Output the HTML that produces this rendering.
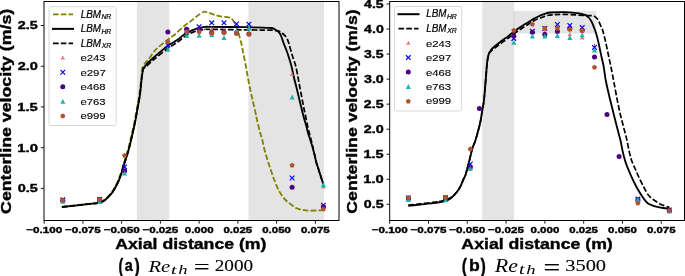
<!DOCTYPE html>
<html><head><meta charset="utf-8"><title>Centerline velocity</title>
<style>html,body{margin:0;padding:0;background:#fff;width:685px;height:276px;overflow:hidden}
text{font-kerning:none;white-space:pre}</style></head>
<body>
<svg width="685" height="276" viewBox="0 0 685 276" style="display:block">
<rect x="0" y="0" width="685" height="276" fill="#fff"/>
<g opacity="0.999">
<g>
<rect x="136.9" y="1.5" width="32.3" height="219" fill="#808080" fill-opacity="0.21"/>
<rect x="248.4" y="1.5" width="75.6" height="219" fill="#808080" fill-opacity="0.21"/>
<path d="M61.5 206.8C63.65 206.57 70.08 205.88 74.4 205.4C78.72 204.92 83.57 204.32 87.4 203.9C91.23 203.48 94.98 203.32 97.4 202.9C99.82 202.48 100.57 202.05 101.9 201.4C103.23 200.75 104.15 200.07 105.4 199C106.65 197.93 108.23 196.3 109.4 195C110.57 193.7 111.4 192.68 112.4 191.2C113.4 189.72 114.4 187.98 115.4 186.1C116.4 184.22 117.47 182.15 118.4 179.9C119.33 177.65 120.08 175.42 121 172.6C121.92 169.78 122.73 166.8 123.9 163C125.07 159.2 126.75 154.33 128 149.8C129.25 145.27 130.33 140.38 131.4 135.8C132.47 131.22 133.47 126.97 134.4 122.3C135.33 117.63 136.18 112.38 137 107.8C137.82 103.22 138.6 99.43 139.3 94.8C140 90.17 140.7 84.47 141.2 80C141.7 75.53 142.12 70 142.3 68C142.75 67.2 143.95 64.62 145 63.2C146.05 61.78 146.87 61.7 148.6 59.5C150.33 57.3 152.33 53.2 155.4 50C158.47 46.8 163.87 42.8 167 40.3C170.13 37.8 171.28 37.42 174.2 35C177.12 32.58 181.63 28.2 184.5 25.8C187.37 23.4 189.28 22.25 191.4 20.6C193.52 18.95 195.02 17.42 197.2 15.9C199.38 14.38 203.28 12.23 204.5 11.5C205.22 11.72 207.12 12.25 208.8 12.8C210.48 13.35 212.67 14.2 214.6 14.8C216.53 15.4 218.08 15.97 220.4 16.4C222.72 16.83 226.65 17 228.5 17.4C230.35 17.8 230.65 18.15 231.5 18.8C232.35 19.45 232.95 20.35 233.6 21.3C234.25 22.25 234.85 23.35 235.4 24.5C235.95 25.65 236.43 26.95 236.9 28.2C237.37 29.45 237.78 30.67 238.2 32C238.62 33.33 239.02 34.78 239.4 36.2C239.78 37.62 240.13 39.12 240.5 40.5C240.87 41.88 241.15 42.48 241.6 44.5C242.05 46.52 242.45 48.77 243.2 52.6C243.95 56.43 245.13 62.35 246.1 67.5C247.07 72.65 247.92 78.08 249 83.5C250.08 88.92 251.5 95.08 252.6 100C253.7 104.92 254.87 109.67 255.6 113C256.33 116.33 256.32 117 257 120C257.68 123 258.82 127.67 259.7 131C260.58 134.33 261.48 136.83 262.3 140C263.12 143.17 263.73 146.67 264.6 150C265.47 153.33 266.47 156.67 267.5 160C268.53 163.33 269.67 166.67 270.8 170C271.93 173.33 273.13 176.93 274.3 180C275.47 183.07 276.8 186.23 277.8 188.4C278.8 190.57 279.43 191.58 280.3 193C281.17 194.42 282.05 195.65 283 196.9C283.95 198.15 284.92 199.42 286 200.5C287.08 201.58 287.82 202.15 289.5 203.4C291.18 204.65 293.92 206.92 296.1 208C298.28 209.08 300.43 209.47 302.6 209.9C304.77 210.33 306.42 210.52 309.1 210.6C311.78 210.68 316.33 210.48 318.7 210.4C321.07 210.32 322.53 210.15 323.3 210.1" fill="none" stroke="#808000" stroke-width="1.8" stroke-linejoin="round" stroke-linecap="butt" stroke-dasharray="5.6 2.2"/>
<path d="M62.1 207C64.25 206.77 70.68 206.08 75 205.6C79.32 205.12 84.17 204.52 88 204.1C91.83 203.68 95.58 203.52 98 203.1C100.42 202.68 101.17 202.25 102.5 201.6C103.83 200.95 104.75 200.27 106 199.2C107.25 198.13 108.83 196.5 110 195.2C111.17 193.9 112 192.88 113 191.4C114 189.92 115 188.18 116 186.3C117 184.42 118.07 182.35 119 180.1C119.93 177.85 120.68 175.62 121.6 172.8C122.52 169.98 123.33 167 124.5 163.2C125.67 159.4 127.35 154.53 128.6 150C129.85 145.47 130.93 140.58 132 136C133.07 131.42 134.07 127.17 135 122.5C135.93 117.83 136.78 112.58 137.6 108C138.42 103.42 139.25 99.67 139.9 95C140.55 90.33 140.98 84.33 141.5 80C142.02 75.67 142.75 70.83 143 69C143.58 68.22 145.18 65.8 146.5 64.3C147.82 62.8 149.42 61.38 150.9 60C152.38 58.62 152.72 58.23 155.4 56C158.08 53.77 163.38 49.25 167 46.6C170.62 43.95 174.18 42.17 177.1 40.1C180.02 38.03 182.02 35.83 184.5 34.2C186.98 32.57 189.58 31.35 192 30.3C194.42 29.25 196.87 28.47 199 27.9C201.13 27.33 202.97 27.08 204.8 26.9C206.63 26.72 203.3 26.75 210 26.8C216.7 26.85 235.55 27.03 245 27.2C254.45 27.37 262.28 27.67 266.7 27.8C271.12 27.93 270.28 27.83 271.5 28C272.72 28.17 273.2 28.43 274 28.8C274.8 29.17 275.37 29.48 276.3 30.2C277.23 30.92 278.73 31.97 279.6 33.1C280.47 34.23 280.88 35.48 281.5 37C282.12 38.52 282.72 40.58 283.3 42.2C283.88 43.82 284.35 45.03 285 46.7C285.65 48.37 286.45 50.07 287.2 52.2C287.95 54.33 288.77 57.08 289.5 59.5C290.23 61.92 290.87 63.75 291.6 66.7C292.33 69.65 293.22 74.23 293.9 77.2C294.58 80.17 295.1 82.08 295.7 84.5C296.3 86.92 296.78 88.75 297.5 91.7C298.22 94.65 299.28 99.23 300 102.2C300.72 105.17 301.2 107.08 301.8 109.5C302.4 111.92 302.88 114.08 303.6 116.7C304.32 119.32 305.38 122.57 306.1 125.2C306.82 127.83 307.22 130.08 307.9 132.5C308.58 134.92 309.48 137.45 310.2 139.7C310.92 141.95 311.48 143.52 312.2 146C312.92 148.48 313.83 151.93 314.5 154.6C315.17 157.27 315.65 159.93 316.2 162C316.75 164.07 317.22 165.17 317.8 167C318.38 168.83 319.03 170.9 319.7 173C320.37 175.1 321.18 177.8 321.8 179.6C322.42 181.4 323.13 183.1 323.4 183.8" fill="none" stroke="#000" stroke-width="1.85" stroke-linejoin="round" stroke-linecap="butt"/>
<path d="M62.1 207C64.25 206.77 70.68 206.08 75 205.6C79.32 205.12 84.17 204.52 88 204.1C91.83 203.68 95.58 203.52 98 203.1C100.42 202.68 101.17 202.25 102.5 201.6C103.83 200.95 104.75 200.27 106 199.2C107.25 198.13 108.83 196.5 110 195.2C111.17 193.9 112 192.88 113 191.4C114 189.92 115 188.18 116 186.3C117 184.42 118.07 182.35 119 180.1C119.93 177.85 120.68 175.62 121.6 172.8C122.52 169.98 123.33 167 124.5 163.2C125.67 159.4 127.35 154.53 128.6 150C129.85 145.47 130.93 140.58 132 136C133.07 131.42 134.07 127.17 135 122.5C135.93 117.83 136.78 112.58 137.6 108C138.42 103.42 139.25 99.67 139.9 95C140.55 90.33 140.98 84.33 141.5 80C142.02 75.67 142.75 70.83 143 69C143.58 68.53 145.18 67.33 146.5 66.2C147.82 65.07 149.42 63.52 150.9 62.2C152.38 60.88 152.72 60.5 155.4 58.3C158.08 56.1 163.4 51.63 167 49C170.6 46.37 174.08 44.57 177 42.5C179.92 40.43 182 38.25 184.5 36.6C187 34.95 189.58 33.67 192 32.6C194.42 31.53 196.83 30.73 199 30.2C201.17 29.67 203.17 29.55 205 29.4C206.83 29.25 201.67 29.2 210 29.3C218.33 29.4 245 29.85 255 30C265 30.15 266.67 30.15 270 30.2C273.33 30.25 273.43 30.1 275 30.3C276.57 30.5 278.13 30.87 279.4 31.4C280.67 31.93 281.58 32.7 282.6 33.5C283.62 34.3 284.67 35.15 285.5 36.2C286.33 37.25 286.98 38.42 287.6 39.8C288.22 41.18 288.58 42.43 289.2 44.5C289.82 46.57 290.57 49.7 291.3 52.2C292.03 54.7 292.83 57.08 293.6 59.5C294.37 61.92 295.17 63.75 295.9 66.7C296.63 69.65 297.43 74.23 298 77.2C298.57 80.17 298.85 82.08 299.3 84.5C299.75 86.92 300.13 88.75 300.7 91.7C301.27 94.65 302.13 99.23 302.7 102.2C303.27 105.17 303.6 107.08 304.1 109.5C304.6 111.92 305.15 114.08 305.7 116.7C306.25 119.32 306.82 122.57 307.4 125.2C307.98 127.83 308.58 130.08 309.2 132.5C309.82 134.92 310.53 137.45 311.1 139.7C311.67 141.95 312.03 143.52 312.6 146C313.17 148.48 313.9 151.93 314.5 154.6C315.1 157.27 315.65 159.93 316.2 162C316.75 164.07 317.22 165.17 317.8 167C318.38 168.83 319.03 170.9 319.7 173C320.37 175.1 321.18 177.8 321.8 179.6C322.42 181.4 323.13 183.1 323.4 183.8" fill="none" stroke="#000" stroke-width="1.7" stroke-linejoin="round" stroke-linecap="butt" stroke-dasharray="5.6 2.2"/>
<path d="M62.8 200.35L62.8 198.2M62.8 200.35L60.94 201.42M62.8 200.35L64.66 201.42" stroke="#df5a5e" stroke-width="1.15" fill="none"/>
<path d="M99.7 199.85L99.7 197.7M99.7 199.85L97.84 200.92M99.7 199.85L101.56 200.92" stroke="#df5a5e" stroke-width="1.15" fill="none"/>
<path d="M124.6 171.85L124.6 169.7M124.6 171.85L122.74 172.92M124.6 171.85L126.46 172.92" stroke="#df5a5e" stroke-width="1.15" fill="none"/>
<path d="M167.9 45.35L167.9 43.2M167.9 45.35L166.04 46.43M167.9 45.35L169.76 46.43" stroke="#df5a5e" stroke-width="1.15" fill="none"/>
<path d="M186.7 31.35L186.7 29.2M186.7 31.35L184.84 32.43M186.7 31.35L188.56 32.43" stroke="#df5a5e" stroke-width="1.15" fill="none"/>
<path d="M199.1 30.35L199.1 28.2M199.1 30.35L197.24 31.43M199.1 30.35L200.96 31.43" stroke="#df5a5e" stroke-width="1.15" fill="none"/>
<path d="M211.7 29.65L211.7 27.5M211.7 29.65L209.84 30.73M211.7 29.65L213.56 30.73" stroke="#df5a5e" stroke-width="1.15" fill="none"/>
<path d="M224 31.35L224 29.2M224 31.35L222.14 32.43M224 31.35L225.86 32.43" stroke="#df5a5e" stroke-width="1.15" fill="none"/>
<path d="M236.5 30.35L236.5 28.2M236.5 30.35L234.64 31.43M236.5 30.35L238.36 31.43" stroke="#df5a5e" stroke-width="1.15" fill="none"/>
<path d="M248.9 28.35L248.9 26.2M248.9 28.35L247.04 29.43M248.9 28.35L250.76 29.43" stroke="#df5a5e" stroke-width="1.15" fill="none"/>
<path d="M292.1 74.45L292.1 72.3M292.1 74.45L290.24 75.52M292.1 74.45L293.96 75.52" stroke="#df5a5e" stroke-width="1.15" fill="none"/>
<path d="M323.4 187.15L323.4 185M323.4 187.15L321.54 188.22M323.4 187.15L325.26 188.22" stroke="#df5a5e" stroke-width="1.15" fill="none"/>
<path d="M60.47 197.48L65.12 202.12M60.47 202.12L65.12 197.48" stroke="#0000ff" stroke-width="1.15" fill="none"/>
<path d="M97.38 197.18L102.03 201.82M97.38 201.82L102.03 197.18" stroke="#0000ff" stroke-width="1.15" fill="none"/>
<path d="M122.27 164.58L126.92 169.22M122.27 169.22L126.92 164.58" stroke="#0000ff" stroke-width="1.15" fill="none"/>
<path d="M165.58 42.77L170.22 47.43M165.58 47.43L170.22 42.77" stroke="#0000ff" stroke-width="1.15" fill="none"/>
<path d="M184.38 28.68L189.02 33.33M184.38 33.33L189.02 28.68" stroke="#0000ff" stroke-width="1.15" fill="none"/>
<path d="M196.78 24.38L201.42 29.02M196.78 29.02L201.42 24.38" stroke="#0000ff" stroke-width="1.15" fill="none"/>
<path d="M209.38 20.48L214.02 25.12M209.38 25.12L214.02 20.48" stroke="#0000ff" stroke-width="1.15" fill="none"/>
<path d="M221.68 20.48L226.32 25.12M221.68 25.12L226.32 20.48" stroke="#0000ff" stroke-width="1.15" fill="none"/>
<path d="M234.18 21.57L238.82 26.22M234.18 26.22L238.82 21.57" stroke="#0000ff" stroke-width="1.15" fill="none"/>
<path d="M246.58 21.88L251.22 26.52M246.58 26.52L251.22 21.88" stroke="#0000ff" stroke-width="1.15" fill="none"/>
<path d="M289.78 175.68L294.43 180.32M289.78 180.32L294.43 175.68" stroke="#0000ff" stroke-width="1.15" fill="none"/>
<path d="M321.07 202.88L325.72 207.52M321.07 207.52L325.72 202.88" stroke="#0000ff" stroke-width="1.15" fill="none"/>
<circle cx="62.8" cy="200.2" r="2.5" fill="#4b0082"/>
<circle cx="99.7" cy="199.6" r="2.5" fill="#4b0082"/>
<circle cx="124.6" cy="170.8" r="2.5" fill="#4b0082"/>
<circle cx="167.9" cy="32.1" r="2.5" fill="#4b0082"/>
<circle cx="186.7" cy="29.3" r="2.5" fill="#4b0082"/>
<circle cx="199.1" cy="29.2" r="2.5" fill="#4b0082"/>
<circle cx="211.7" cy="32.8" r="2.5" fill="#4b0082"/>
<circle cx="224" cy="32.3" r="2.5" fill="#4b0082"/>
<circle cx="236.5" cy="33" r="2.5" fill="#4b0082"/>
<circle cx="248.9" cy="34" r="2.5" fill="#4b0082"/>
<circle cx="292.1" cy="187.2" r="2.5" fill="#4b0082"/>
<circle cx="323.4" cy="206.5" r="2.5" fill="#4b0082"/>
<polygon points="62.8,198.8 60.3,203.8 65.3,203.8" fill="#20b2aa"/>
<polygon points="99.7,198.9 97.2,203.9 102.2,203.9" fill="#20b2aa"/>
<polygon points="124.6,170.5 122.1,175.5 127.1,175.5" fill="#20b2aa"/>
<polygon points="167.9,46.7 165.4,51.7 170.4,51.7" fill="#20b2aa"/>
<polygon points="186.7,32.9 184.2,37.9 189.2,37.9" fill="#20b2aa"/>
<polygon points="199.1,32.8 196.6,37.8 201.6,37.8" fill="#20b2aa"/>
<polygon points="211.7,31.9 209.2,36.9 214.2,36.9" fill="#20b2aa"/>
<polygon points="224,34.9 221.5,39.9 226.5,39.9" fill="#20b2aa"/>
<polygon points="236.5,28.2 234,33.2 239,33.2" fill="#20b2aa"/>
<polygon points="248.9,25.6 246.4,30.6 251.4,30.6" fill="#20b2aa"/>
<polygon points="292.1,94.5 289.6,99.5 294.6,99.5" fill="#20b2aa"/>
<polygon points="323.4,181.9 320.9,186.9 325.9,186.9" fill="#20b2aa"/>
<polygon points="62.8,197.75 65.32,199.58 64.36,202.54 61.24,202.54 60.28,199.58" fill="#b0522a"/>
<polygon points="99.7,196.95 102.22,198.78 101.26,201.74 98.14,201.74 97.18,198.78" fill="#b0522a"/>
<polygon points="124.6,152.95 127.12,154.78 126.16,157.74 123.04,157.74 122.08,154.78" fill="#b0522a"/>
<polygon points="167.9,39.05 170.42,40.88 169.46,43.84 166.34,43.84 165.38,40.88" fill="#b0522a"/>
<polygon points="186.7,29.25 189.22,31.08 188.26,34.04 185.14,34.04 184.18,31.08" fill="#b0522a"/>
<polygon points="199.1,29.25 201.62,31.08 200.66,34.04 197.54,34.04 196.58,31.08" fill="#b0522a"/>
<polygon points="211.7,30.45 214.22,32.28 213.26,35.24 210.14,35.24 209.18,32.28" fill="#b0522a"/>
<polygon points="224,29.95 226.52,31.78 225.56,34.74 222.44,34.74 221.48,31.78" fill="#b0522a"/>
<polygon points="236.5,31.05 239.02,32.88 238.06,35.84 234.94,35.84 233.98,32.88" fill="#b0522a"/>
<polygon points="248.9,31.45 251.42,33.28 250.46,36.24 247.34,36.24 246.38,33.28" fill="#b0522a"/>
<polygon points="292.1,162.65 294.62,164.48 293.66,167.44 290.54,167.44 289.58,164.48" fill="#b0522a"/>
<polygon points="323.4,206.45 325.92,208.28 324.96,211.24 321.84,211.24 320.88,208.28" fill="#b0522a"/>
<rect x="49" y="6.7" width="67.2" height="118.8" rx="2" ry="2" fill="#fff" fill-opacity="0.8" stroke="#d4d4d4" stroke-width="0.9"/>
<polyline points="53,14.4 73,14.4" fill="none" stroke="#808000" stroke-width="1.8" stroke-linejoin="round" stroke-linecap="butt" stroke-dasharray="5.6 2.2"/>
<text transform="translate(80.7,17.6) scale(0.9569,1)" style="font-family:'Liberation Sans',sans-serif;" font-size="10.320" font-style="italic" stroke="#000" stroke-width="0.2" fill="#000">LBM</text>
<text transform="translate(101.39,19.2) scale(1.0742,1)" style="font-family:'Liberation Sans',sans-serif;" font-size="6.395" font-style="italic" stroke="#000" stroke-width="0.2" fill="#000">NR</text>
<polyline points="53,28.87 73,28.87" fill="none" stroke="#000" stroke-width="2" stroke-linejoin="round" stroke-linecap="square"/>
<text transform="translate(80.7,32.07) scale(0.9569,1)" style="font-family:'Liberation Sans',sans-serif;" font-size="10.320" font-style="italic" stroke="#000" stroke-width="0.2" fill="#000">LBM</text>
<text transform="translate(101.39,33.67) scale(1.0742,1)" style="font-family:'Liberation Sans',sans-serif;" font-size="6.395" font-style="italic" stroke="#000" stroke-width="0.2" fill="#000">HR</text>
<polyline points="53,43.34 73,43.34" fill="none" stroke="#000" stroke-width="1.9" stroke-linejoin="round" stroke-linecap="butt" stroke-dasharray="5.6 2.2"/>
<text transform="translate(80.7,46.54) scale(0.9569,1)" style="font-family:'Liberation Sans',sans-serif;" font-size="10.320" font-style="italic" stroke="#000" stroke-width="0.2" fill="#000">LBM</text>
<text transform="translate(101.73,48.14) scale(1.0784,1)" style="font-family:'Liberation Sans',sans-serif;" font-size="6.395" font-style="italic" stroke="#000" stroke-width="0.2" fill="#000">XR</text>
<path d="M62.8 58.16L62.8 56.01M62.8 58.16L60.94 59.24M62.8 58.16L64.66 59.24" stroke="#df5a5e" stroke-width="1.15" fill="none"/>
<text transform="translate(80.48,61.26) scale(1.1986,1)" style="font-family:'Liberation Sans',sans-serif;" font-size="9.435" stroke="#000" stroke-width="0.12" fill="#000">e243</text>
<path d="M60.47 69.95L65.12 74.61M60.47 74.61L65.12 69.95" stroke="#0000ff" stroke-width="1.15" fill="none"/>
<text transform="translate(80.48,75.73) scale(1.2022,1)" style="font-family:'Liberation Sans',sans-serif;" font-size="9.435" stroke="#000" stroke-width="0.12" fill="#000">e297</text>
<circle cx="62.8" cy="86.75" r="2.5" fill="#4b0082"/>
<text transform="translate(80.48,90.2) scale(1.1983,1)" style="font-family:'Liberation Sans',sans-serif;" font-size="9.435" stroke="#000" stroke-width="0.12" fill="#000">e468</text>
<polygon points="62.8,98.72 60.3,103.72 65.3,103.72" fill="#20b2aa"/>
<text transform="translate(80.48,104.67) scale(1.1986,1)" style="font-family:'Liberation Sans',sans-serif;" font-size="9.435" stroke="#000" stroke-width="0.12" fill="#000">e763</text>
<polygon points="62.8,113.34 65.32,115.17 64.36,118.13 61.24,118.13 60.28,115.17" fill="#b0522a"/>
<text transform="translate(80.48,119.14) scale(1.2005,1)" style="font-family:'Liberation Sans',sans-serif;" font-size="9.435" stroke="#000" stroke-width="0.12" fill="#000">e999</text>
<rect x="44" y="1.5" width="295" height="219" fill="none" stroke="#000" stroke-width="1"/>
<line x1="40.8" y1="188.4" x2="44" y2="188.4" stroke="#000" stroke-width="0.9"/>
<line x1="40.8" y1="147.68" x2="44" y2="147.68" stroke="#000" stroke-width="0.9"/>
<line x1="40.8" y1="106.95" x2="44" y2="106.95" stroke="#000" stroke-width="0.9"/>
<line x1="40.8" y1="66.22" x2="44" y2="66.22" stroke="#000" stroke-width="0.9"/>
<line x1="40.8" y1="25.5" x2="44" y2="25.5" stroke="#000" stroke-width="0.9"/>
<line x1="44.19" y1="220.5" x2="44.19" y2="223.7" stroke="#000" stroke-width="0.9"/>
<line x1="82.93" y1="220.5" x2="82.93" y2="223.7" stroke="#000" stroke-width="0.9"/>
<line x1="121.67" y1="220.5" x2="121.67" y2="223.7" stroke="#000" stroke-width="0.9"/>
<line x1="160.41" y1="220.5" x2="160.41" y2="223.7" stroke="#000" stroke-width="0.9"/>
<line x1="199.15" y1="220.5" x2="199.15" y2="223.7" stroke="#000" stroke-width="0.9"/>
<line x1="237.89" y1="220.5" x2="237.89" y2="223.7" stroke="#000" stroke-width="0.9"/>
<line x1="276.63" y1="220.5" x2="276.63" y2="223.7" stroke="#000" stroke-width="0.9"/>
<line x1="315.37" y1="220.5" x2="315.37" y2="223.7" stroke="#000" stroke-width="0.9"/>
</g>
<g>
<rect x="482.2" y="1.5" width="32" height="219" fill="#808080" fill-opacity="0.21"/>
<rect x="513.5" y="10.9" width="82.9" height="22.6" fill="#808080" fill-opacity="0.21"/>
<path d="M408.3 205.9C410.25 205.68 415.88 205.05 420 204.6C424.12 204.15 429.67 203.62 433 203.2C436.33 202.78 437.93 202.47 440 202.1C442.07 201.73 443.58 201.65 445.4 201C447.22 200.35 449.45 199.18 450.9 198.2C452.35 197.22 453.02 196.25 454.1 195.1C455.18 193.95 456.3 192.83 457.4 191.3C458.5 189.77 459.7 187.9 460.7 185.9C461.7 183.9 462.6 181.12 463.4 179.3C464.2 177.48 464.55 177.93 465.5 175C466.45 172.07 467.98 166.03 469.1 161.7C470.22 157.37 471.22 152.33 472.2 149C473.18 145.67 474.08 144.43 475 141.7C475.92 138.97 476.8 135.93 477.7 132.6C478.6 129.27 479.65 125.32 480.4 121.7C481.15 118.08 481.6 114.52 482.2 110.9C482.8 107.28 483.38 105.55 484 100C484.62 94.45 485.37 83.93 485.9 77.6C486.43 71.27 486.72 66 487.2 62C487.68 58 488.53 55 488.8 53.6C489.28 52.87 490.6 50.5 491.7 49.2C492.8 47.9 493.98 47.02 495.4 45.8C496.82 44.58 498.62 43.1 500.2 41.9C501.78 40.7 503.37 39.72 504.9 38.6C506.43 37.48 507.9 36.35 509.4 35.2C510.9 34.05 512.32 32.88 513.9 31.7C515.48 30.52 517.28 29.22 518.9 28.1C520.52 26.98 522.03 25.98 523.6 25C525.17 24.02 526.63 23.22 528.3 22.2C529.97 21.18 531.93 19.85 533.6 18.9C535.27 17.95 536.9 17.17 538.3 16.5C539.7 15.83 540.83 15.37 542 14.9C543.17 14.43 543.9 14.1 545.3 13.7C546.7 13.3 547.12 12.75 550.4 12.5C553.68 12.25 560.23 12.07 565 12.2C569.77 12.33 575.58 12.82 579 13.3C582.42 13.78 583.82 14.32 585.5 15.1C587.18 15.88 588.02 16.77 589.1 18C590.18 19.23 591.15 20.83 592 22.5C592.85 24.17 593.53 26.25 594.2 28C594.87 29.75 595.35 30.85 596 33C596.65 35.15 597.3 37.47 598.1 40.9C598.9 44.33 599.88 49.38 600.8 53.6C601.72 57.82 602.78 61.8 603.6 66.2C604.42 70.6 604.8 75.2 605.7 80C606.6 84.8 607.78 89.78 609 95C610.22 100.22 611.65 105.87 613 111.3C614.35 116.73 615.87 122.82 617.1 127.6C618.33 132.38 619.43 135.87 620.4 140C621.37 144.13 622.05 148.73 622.9 152.4C623.75 156.07 624.52 158.98 625.5 162C626.48 165.02 627.58 167.57 628.8 170.5C630.02 173.43 631.47 176.77 632.8 179.6C634.13 182.43 635.33 184.85 636.8 187.5C638.27 190.15 640.02 193.1 641.6 195.5C643.18 197.9 644.98 200.43 646.3 201.9C647.62 203.37 648.03 203.55 649.5 204.3C650.97 205.05 652.83 205.78 655.1 206.4C657.37 207.02 660.73 207.6 663.1 208C665.47 208.4 668.27 208.67 669.3 208.8" fill="none" stroke="#000" stroke-width="1.85" stroke-linejoin="round" stroke-linecap="butt"/>
<path d="M408.3 205.1C410.25 204.88 415.88 204.25 420 203.8C424.12 203.35 429.67 202.82 433 202.4C436.33 201.98 437.93 201.67 440 201.3C442.07 200.93 443.58 200.85 445.4 200.2C447.22 199.55 449.45 198.25 450.9 197.4C452.35 196.55 453.02 196.12 454.1 195.1C455.18 194.08 456.3 192.83 457.4 191.3C458.5 189.77 459.7 187.9 460.7 185.9C461.7 183.9 462.6 181.12 463.4 179.3C464.2 177.48 464.55 177.93 465.5 175C466.45 172.07 467.98 166.03 469.1 161.7C470.22 157.37 471.22 152.33 472.2 149C473.18 145.67 474.08 144.43 475 141.7C475.92 138.97 476.8 135.93 477.7 132.6C478.6 129.27 479.65 125.32 480.4 121.7C481.15 118.08 481.6 114.52 482.2 110.9C482.8 107.28 483.38 105.55 484 100C484.62 94.45 485.37 83.93 485.9 77.6C486.43 71.27 486.72 66 487.2 62C487.68 58 488.53 55 488.8 53.6C489.28 53.08 490.6 51.52 491.7 50.5C492.8 49.48 493.98 48.62 495.4 47.5C496.82 46.38 498.62 44.97 500.2 43.8C501.78 42.63 503.37 41.6 504.9 40.5C506.43 39.4 507.9 38.32 509.4 37.2C510.9 36.08 512.32 34.95 513.9 33.8C515.48 32.65 517.28 31.4 518.9 30.3C520.52 29.2 522.03 28.22 523.6 27.2C525.17 26.18 526.63 25.23 528.3 24.2C529.97 23.17 531.93 21.93 533.6 21C535.27 20.07 536.72 19.27 538.3 18.6C539.88 17.93 541.7 17.5 543.1 17C544.5 16.5 545.13 15.97 546.7 15.6C548.27 15.23 549.45 15 552.5 14.8C555.55 14.6 559.38 14.28 565 14.4C570.62 14.52 581.45 15.25 586.2 15.5C590.95 15.75 591.57 15.23 593.5 15.9C595.43 16.57 596.48 17.57 597.8 19.5C599.12 21.43 600.6 25.75 601.4 27.5C602.2 29.25 601.93 27.77 602.6 30C603.27 32.23 604.48 36.97 605.4 40.9C606.32 44.83 607.2 49.38 608.1 53.6C609 57.82 609.9 61.8 610.8 66.2C611.7 70.6 612.58 75.2 613.5 80C614.42 84.8 615.28 89.78 616.3 95C617.32 100.22 618.37 105.87 619.6 111.3C620.83 116.73 622.48 122.82 623.7 127.6C624.92 132.38 625.95 135.87 626.9 140C627.85 144.13 628.55 148.82 629.4 152.4C630.25 155.98 630.98 158.65 632 161.5C633.02 164.35 634.3 166.75 635.5 169.5C636.7 172.25 637.78 175 639.2 178C640.62 181 642.42 184.58 644 187.5C645.58 190.42 646.98 193.37 648.7 195.5C650.42 197.63 652.3 198.85 654.3 200.3C656.3 201.75 658.43 203.1 660.7 204.2C662.97 205.3 666.43 206.33 667.9 206.9C669.37 207.47 669.23 207.48 669.5 207.6" fill="none" stroke="#000" stroke-width="1.7" stroke-linejoin="round" stroke-linecap="butt" stroke-dasharray="5.6 2.2"/>
<path d="M408.4 198.35L408.4 196.2M408.4 198.35L406.54 199.42M408.4 198.35L410.26 199.42" stroke="#df5a5e" stroke-width="1.15" fill="none"/>
<path d="M445.6 197.95L445.6 195.8M445.6 197.95L443.74 199.02M445.6 197.95L447.46 199.02" stroke="#df5a5e" stroke-width="1.15" fill="none"/>
<path d="M470.3 167.35L470.3 165.2M470.3 167.35L468.44 168.42M470.3 167.35L472.16 168.42" stroke="#df5a5e" stroke-width="1.15" fill="none"/>
<path d="M513.8 38.85L513.8 36.7M513.8 38.85L511.94 39.93M513.8 38.85L515.66 39.93" stroke="#df5a5e" stroke-width="1.15" fill="none"/>
<path d="M532.4 31.85L532.4 29.7M532.4 31.85L530.54 32.93M532.4 31.85L534.26 32.93" stroke="#df5a5e" stroke-width="1.15" fill="none"/>
<path d="M544.8 32.05L544.8 29.9M544.8 32.05L542.94 33.12M544.8 32.05L546.66 33.12" stroke="#df5a5e" stroke-width="1.15" fill="none"/>
<path d="M557.4 31.35L557.4 29.2M557.4 31.35L555.54 32.43M557.4 31.35L559.26 32.43" stroke="#df5a5e" stroke-width="1.15" fill="none"/>
<path d="M569.8 34.75L569.8 32.6M569.8 34.75L567.94 35.83M569.8 34.75L571.66 35.83" stroke="#df5a5e" stroke-width="1.15" fill="none"/>
<path d="M582.2 38.25L582.2 36.1M582.2 38.25L580.34 39.33M582.2 38.25L584.06 39.33" stroke="#df5a5e" stroke-width="1.15" fill="none"/>
<path d="M594.5 45.95L594.5 43.8M594.5 45.95L592.64 47.03M594.5 45.95L596.36 47.03" stroke="#df5a5e" stroke-width="1.15" fill="none"/>
<path d="M637.9 199.85L637.9 197.7M637.9 199.85L636.04 200.92M637.9 199.85L639.76 200.92" stroke="#df5a5e" stroke-width="1.15" fill="none"/>
<path d="M669.3 210.55L669.3 208.4M669.3 210.55L667.44 211.62M669.3 210.55L671.16 211.62" stroke="#df5a5e" stroke-width="1.15" fill="none"/>
<path d="M406.07 195.68L410.72 200.32M406.07 200.32L410.72 195.68" stroke="#0000ff" stroke-width="1.15" fill="none"/>
<path d="M443.28 195.48L447.93 200.12M443.28 200.12L447.93 195.48" stroke="#0000ff" stroke-width="1.15" fill="none"/>
<path d="M467.98 161.68L472.62 166.32M467.98 166.32L472.62 161.68" stroke="#0000ff" stroke-width="1.15" fill="none"/>
<path d="M511.47 36.27L516.12 40.93M511.47 40.93L516.12 36.27" stroke="#0000ff" stroke-width="1.15" fill="none"/>
<path d="M530.07 28.88L534.73 33.52M530.07 33.52L534.73 28.88" stroke="#0000ff" stroke-width="1.15" fill="none"/>
<path d="M542.47 26.07L547.12 30.72M542.47 30.72L547.12 26.07" stroke="#0000ff" stroke-width="1.15" fill="none"/>
<path d="M555.07 22.18L559.73 26.82M555.07 26.82L559.73 22.18" stroke="#0000ff" stroke-width="1.15" fill="none"/>
<path d="M567.47 23.07L572.12 27.72M567.47 27.72L572.12 23.07" stroke="#0000ff" stroke-width="1.15" fill="none"/>
<path d="M579.88 25.28L584.53 29.93M579.88 29.93L584.53 25.28" stroke="#0000ff" stroke-width="1.15" fill="none"/>
<path d="M592.17 45.07L596.83 49.73M592.17 49.73L596.83 45.07" stroke="#0000ff" stroke-width="1.15" fill="none"/>
<path d="M635.57 196.58L640.23 201.22M635.57 201.22L640.23 196.58" stroke="#0000ff" stroke-width="1.15" fill="none"/>
<path d="M666.97 207.58L671.62 212.22M666.97 212.22L671.62 207.58" stroke="#0000ff" stroke-width="1.15" fill="none"/>
<circle cx="408.4" cy="198" r="2.5" fill="#4b0082"/>
<circle cx="445.6" cy="197.8" r="2.5" fill="#4b0082"/>
<circle cx="470.3" cy="167.6" r="2.5" fill="#4b0082"/>
<circle cx="479.4" cy="108.5" r="2.5" fill="#4b0082"/>
<circle cx="513.8" cy="36" r="2.5" fill="#4b0082"/>
<circle cx="532.4" cy="32.2" r="2.5" fill="#4b0082"/>
<circle cx="544.8" cy="34.4" r="2.5" fill="#4b0082"/>
<circle cx="557.4" cy="31.5" r="2.5" fill="#4b0082"/>
<circle cx="569.8" cy="29" r="2.5" fill="#4b0082"/>
<circle cx="582.2" cy="30.2" r="2.5" fill="#4b0082"/>
<circle cx="594.5" cy="57.1" r="2.5" fill="#4b0082"/>
<circle cx="607" cy="114.6" r="2.5" fill="#4b0082"/>
<circle cx="619.1" cy="156.5" r="2.5" fill="#4b0082"/>
<circle cx="637.9" cy="199.6" r="2.5" fill="#4b0082"/>
<circle cx="669.3" cy="210.3" r="2.5" fill="#4b0082"/>
<polygon points="408.4,197.1 405.9,202.1 410.9,202.1" fill="#20b2aa"/>
<polygon points="445.6,197.2 443.1,202.2 448.1,202.2" fill="#20b2aa"/>
<polygon points="470.3,165.9 467.8,170.9 472.8,170.9" fill="#20b2aa"/>
<polygon points="513.8,39.8 511.3,44.8 516.3,44.8" fill="#20b2aa"/>
<polygon points="532.4,33.5 529.9,38.5 534.9,38.5" fill="#20b2aa"/>
<polygon points="544.8,33.5 542.3,38.5 547.3,38.5" fill="#20b2aa"/>
<polygon points="557.4,32.9 554.9,37.9 559.9,37.9" fill="#20b2aa"/>
<polygon points="569.8,35.1 567.3,40.1 572.3,40.1" fill="#20b2aa"/>
<polygon points="582.2,32.5 579.7,37.5 584.7,37.5" fill="#20b2aa"/>
<polygon points="594.5,47.6 592,52.6 597,52.6" fill="#20b2aa"/>
<polygon points="637.9,196.7 635.4,201.7 640.4,201.7" fill="#20b2aa"/>
<polygon points="669.3,208.5 666.8,213.5 671.8,213.5" fill="#20b2aa"/>
<polygon points="408.4,195.25 410.92,197.08 409.96,200.04 406.84,200.04 405.88,197.08" fill="#b0522a"/>
<polygon points="445.6,195.05 448.12,196.88 447.16,199.84 444.04,199.84 443.08,196.88" fill="#b0522a"/>
<polygon points="470.3,146.35 472.82,148.18 471.86,151.14 468.74,151.14 467.78,148.18" fill="#b0522a"/>
<polygon points="513.8,27.85 516.32,29.68 515.36,32.64 512.24,32.64 511.28,29.68" fill="#b0522a"/>
<polygon points="532.4,21.75 534.92,23.58 533.96,26.54 530.84,26.54 529.88,23.58" fill="#b0522a"/>
<polygon points="544.8,25.75 547.32,27.58 546.36,30.54 543.24,30.54 542.28,27.58" fill="#b0522a"/>
<polygon points="557.4,25.65 559.92,27.48 558.96,30.44 555.84,30.44 554.88,27.48" fill="#b0522a"/>
<polygon points="569.8,26.55 572.32,28.38 571.36,31.34 568.24,31.34 567.28,28.38" fill="#b0522a"/>
<polygon points="582.2,27.85 584.72,29.68 583.76,32.64 580.64,32.64 579.68,29.68" fill="#b0522a"/>
<polygon points="594.5,64.65 597.02,66.48 596.06,69.44 592.94,69.44 591.98,66.48" fill="#b0522a"/>
<polygon points="637.9,200.45 640.42,202.28 639.46,205.24 636.34,205.24 635.38,202.28" fill="#b0522a"/>
<polygon points="669.3,208.05 671.82,209.88 670.86,212.84 667.74,212.84 666.78,209.88" fill="#b0522a"/>
<rect x="394.4" y="6.5" width="67.3" height="104.5" rx="2" ry="2" fill="#fff" fill-opacity="0.8" stroke="#d4d4d4" stroke-width="0.9"/>
<polyline points="398.5,14.2 418.5,14.2" fill="none" stroke="#000" stroke-width="2" stroke-linejoin="round" stroke-linecap="square"/>
<text transform="translate(426.2,17.4) scale(0.9569,1)" style="font-family:'Liberation Sans',sans-serif;" font-size="10.320" font-style="italic" stroke="#000" stroke-width="0.2" fill="#000">LBM</text>
<text transform="translate(446.89,19) scale(1.0742,1)" style="font-family:'Liberation Sans',sans-serif;" font-size="6.395" font-style="italic" stroke="#000" stroke-width="0.2" fill="#000">HR</text>
<polyline points="398.5,28.67 418.5,28.67" fill="none" stroke="#000" stroke-width="1.9" stroke-linejoin="round" stroke-linecap="butt" stroke-dasharray="5.6 2.2"/>
<text transform="translate(426.2,31.87) scale(0.9569,1)" style="font-family:'Liberation Sans',sans-serif;" font-size="10.320" font-style="italic" stroke="#000" stroke-width="0.2" fill="#000">LBM</text>
<text transform="translate(447.23,33.47) scale(1.0784,1)" style="font-family:'Liberation Sans',sans-serif;" font-size="6.395" font-style="italic" stroke="#000" stroke-width="0.2" fill="#000">XR</text>
<path d="M408.3 43.49L408.3 41.34M408.3 43.49L406.44 44.57M408.3 43.49L410.16 44.57" stroke="#df5a5e" stroke-width="1.15" fill="none"/>
<text transform="translate(425.98,46.59) scale(1.1986,1)" style="font-family:'Liberation Sans',sans-serif;" font-size="9.435" stroke="#000" stroke-width="0.12" fill="#000">e243</text>
<path d="M405.98 55.28L410.62 59.94M405.98 59.94L410.62 55.28" stroke="#0000ff" stroke-width="1.15" fill="none"/>
<text transform="translate(425.98,61.06) scale(1.2022,1)" style="font-family:'Liberation Sans',sans-serif;" font-size="9.435" stroke="#000" stroke-width="0.12" fill="#000">e297</text>
<circle cx="408.3" cy="72.08" r="2.5" fill="#4b0082"/>
<text transform="translate(425.98,75.53) scale(1.1983,1)" style="font-family:'Liberation Sans',sans-serif;" font-size="9.435" stroke="#000" stroke-width="0.12" fill="#000">e468</text>
<polygon points="408.3,84.05 405.8,89.05 410.8,89.05" fill="#20b2aa"/>
<text transform="translate(425.98,90) scale(1.1986,1)" style="font-family:'Liberation Sans',sans-serif;" font-size="9.435" stroke="#000" stroke-width="0.12" fill="#000">e763</text>
<polygon points="408.3,98.67 410.82,100.5 409.86,103.46 406.74,103.46 405.78,100.5" fill="#b0522a"/>
<text transform="translate(425.98,104.47) scale(1.2005,1)" style="font-family:'Liberation Sans',sans-serif;" font-size="9.435" stroke="#000" stroke-width="0.12" fill="#000">e999</text>
<rect x="389.7" y="1.5" width="294.8" height="219" fill="none" stroke="#000" stroke-width="1"/>
<line x1="386.5" y1="204.3" x2="389.7" y2="204.3" stroke="#000" stroke-width="0.9"/>
<line x1="386.5" y1="179.26" x2="389.7" y2="179.26" stroke="#000" stroke-width="0.9"/>
<line x1="386.5" y1="154.22" x2="389.7" y2="154.22" stroke="#000" stroke-width="0.9"/>
<line x1="386.5" y1="129.18" x2="389.7" y2="129.18" stroke="#000" stroke-width="0.9"/>
<line x1="386.5" y1="104.14" x2="389.7" y2="104.14" stroke="#000" stroke-width="0.9"/>
<line x1="386.5" y1="79.1" x2="389.7" y2="79.1" stroke="#000" stroke-width="0.9"/>
<line x1="386.5" y1="54.06" x2="389.7" y2="54.06" stroke="#000" stroke-width="0.9"/>
<line x1="386.5" y1="29.02" x2="389.7" y2="29.02" stroke="#000" stroke-width="0.9"/>
<line x1="386.5" y1="3.98" x2="389.7" y2="3.98" stroke="#000" stroke-width="0.9"/>
<line x1="389.7" y1="220.5" x2="389.7" y2="223.7" stroke="#000" stroke-width="0.9"/>
<line x1="428.5" y1="220.5" x2="428.5" y2="223.7" stroke="#000" stroke-width="0.9"/>
<line x1="467.3" y1="220.5" x2="467.3" y2="223.7" stroke="#000" stroke-width="0.9"/>
<line x1="506.1" y1="220.5" x2="506.1" y2="223.7" stroke="#000" stroke-width="0.9"/>
<line x1="544.9" y1="220.5" x2="544.9" y2="223.7" stroke="#000" stroke-width="0.9"/>
<line x1="583.7" y1="220.5" x2="583.7" y2="223.7" stroke="#000" stroke-width="0.9"/>
<line x1="622.5" y1="220.5" x2="622.5" y2="223.7" stroke="#000" stroke-width="0.9"/>
<line x1="661.3" y1="220.5" x2="661.3" y2="223.7" stroke="#000" stroke-width="0.9"/>
</g>
<text transform="translate(17.63,192.39) scale(1.2621,1)" style="font-family:'Liberation Sans',sans-serif;" font-size="11.441" font-weight="bold" stroke="#000" stroke-width="0.4" fill="#000">0.5</text>
<text transform="translate(17.26,151.66) scale(1.2981,1)" style="font-family:'Liberation Sans',sans-serif;" font-size="11.441" font-weight="bold" stroke="#000" stroke-width="0.4" fill="#000">1.0</text>
<text transform="translate(17.27,110.94) scale(1.2663,1)" style="font-family:'Liberation Sans',sans-serif;" font-size="11.609" font-weight="bold" stroke="#000" stroke-width="0.4" fill="#000">1.5</text>
<text transform="translate(17.7,70.21) scale(1.2701,1)" style="font-family:'Liberation Sans',sans-serif;" font-size="11.441" font-weight="bold" stroke="#000" stroke-width="0.4" fill="#000">2.0</text>
<text transform="translate(17.7,29.49) scale(1.2575,1)" style="font-family:'Liberation Sans',sans-serif;" font-size="11.441" font-weight="bold" stroke="#000" stroke-width="0.4" fill="#000">2.5</text>
<text transform="translate(363.73,208.29) scale(1.2489,1)" style="font-family:'Liberation Sans',sans-serif;" font-size="11.441" font-weight="bold" stroke="#000" stroke-width="0.4" fill="#000">0.5</text>
<text transform="translate(363.37,183.25) scale(1.2845,1)" style="font-family:'Liberation Sans',sans-serif;" font-size="11.441" font-weight="bold" stroke="#000" stroke-width="0.4" fill="#000">1.0</text>
<text transform="translate(363.38,158.21) scale(1.2530,1)" style="font-family:'Liberation Sans',sans-serif;" font-size="11.609" font-weight="bold" stroke="#000" stroke-width="0.4" fill="#000">1.5</text>
<text transform="translate(363.8,133.17) scale(1.2568,1)" style="font-family:'Liberation Sans',sans-serif;" font-size="11.441" font-weight="bold" stroke="#000" stroke-width="0.4" fill="#000">2.0</text>
<text transform="translate(363.81,108.13) scale(1.2443,1)" style="font-family:'Liberation Sans',sans-serif;" font-size="11.441" font-weight="bold" stroke="#000" stroke-width="0.4" fill="#000">2.5</text>
<text transform="translate(363.97,83.07) scale(1.2483,1)" style="font-family:'Liberation Sans',sans-serif;" font-size="11.417" font-weight="bold" stroke="#000" stroke-width="0.4" fill="#000">3.0</text>
<text transform="translate(363.98,58.03) scale(1.2360,1)" style="font-family:'Liberation Sans',sans-serif;" font-size="11.417" font-weight="bold" stroke="#000" stroke-width="0.4" fill="#000">3.5</text>
<text transform="translate(364.09,33.01) scale(1.2384,1)" style="font-family:'Liberation Sans',sans-serif;" font-size="11.441" font-weight="bold" stroke="#000" stroke-width="0.4" fill="#000">4.0</text>
<text transform="translate(364.09,7.97) scale(1.2085,1)" style="font-family:'Liberation Sans',sans-serif;" font-size="11.609" font-weight="bold" stroke="#000" stroke-width="0.4" fill="#000">4.5</text>
<text transform="translate(26.16,233.21) scale(1.2348,1)" style="font-family:'Liberation Sans',sans-serif;" font-size="9.463" font-weight="bold" stroke="#000" stroke-width="0.4" fill="#000">−0.100</text>
<text transform="translate(64.9,233.21) scale(1.2294,1)" style="font-family:'Liberation Sans',sans-serif;" font-size="9.463" font-weight="bold" stroke="#000" stroke-width="0.4" fill="#000">−0.075</text>
<text transform="translate(103.64,233.21) scale(1.2348,1)" style="font-family:'Liberation Sans',sans-serif;" font-size="9.463" font-weight="bold" stroke="#000" stroke-width="0.4" fill="#000">−0.050</text>
<text transform="translate(142.38,233.21) scale(1.2294,1)" style="font-family:'Liberation Sans',sans-serif;" font-size="9.463" font-weight="bold" stroke="#000" stroke-width="0.4" fill="#000">−0.025</text>
<text transform="translate(184.74,233.21) scale(1.2174,1)" style="font-family:'Liberation Sans',sans-serif;" font-size="9.463" font-weight="bold" stroke="#000" stroke-width="0.4" fill="#000">0.000</text>
<text transform="translate(223.49,233.21) scale(1.2108,1)" style="font-family:'Liberation Sans',sans-serif;" font-size="9.463" font-weight="bold" stroke="#000" stroke-width="0.4" fill="#000">0.025</text>
<text transform="translate(262.22,233.21) scale(1.2174,1)" style="font-family:'Liberation Sans',sans-serif;" font-size="9.463" font-weight="bold" stroke="#000" stroke-width="0.4" fill="#000">0.050</text>
<text transform="translate(300.97,233.21) scale(1.2108,1)" style="font-family:'Liberation Sans',sans-serif;" font-size="9.463" font-weight="bold" stroke="#000" stroke-width="0.4" fill="#000">0.075</text>
<text transform="translate(371.67,233.21) scale(1.2348,1)" style="font-family:'Liberation Sans',sans-serif;" font-size="9.463" font-weight="bold" stroke="#000" stroke-width="0.4" fill="#000">−0.100</text>
<text transform="translate(410.47,233.21) scale(1.2294,1)" style="font-family:'Liberation Sans',sans-serif;" font-size="9.463" font-weight="bold" stroke="#000" stroke-width="0.4" fill="#000">−0.075</text>
<text transform="translate(449.27,233.21) scale(1.2348,1)" style="font-family:'Liberation Sans',sans-serif;" font-size="9.463" font-weight="bold" stroke="#000" stroke-width="0.4" fill="#000">−0.050</text>
<text transform="translate(488.07,233.21) scale(1.2294,1)" style="font-family:'Liberation Sans',sans-serif;" font-size="9.463" font-weight="bold" stroke="#000" stroke-width="0.4" fill="#000">−0.025</text>
<text transform="translate(530.49,233.21) scale(1.2174,1)" style="font-family:'Liberation Sans',sans-serif;" font-size="9.463" font-weight="bold" stroke="#000" stroke-width="0.4" fill="#000">0.000</text>
<text transform="translate(569.3,233.21) scale(1.2108,1)" style="font-family:'Liberation Sans',sans-serif;" font-size="9.463" font-weight="bold" stroke="#000" stroke-width="0.4" fill="#000">0.025</text>
<text transform="translate(608.09,233.21) scale(1.2174,1)" style="font-family:'Liberation Sans',sans-serif;" font-size="9.463" font-weight="bold" stroke="#000" stroke-width="0.4" fill="#000">0.050</text>
<text transform="translate(646.9,233.21) scale(1.2108,1)" style="font-family:'Liberation Sans',sans-serif;" font-size="9.463" font-weight="bold" stroke="#000" stroke-width="0.4" fill="#000">0.075</text>
<text transform="translate(115.26,249.3) scale(1.1585,1)" style="font-family:'Liberation Sans',sans-serif;" font-size="15.262" font-weight="bold" stroke="#000" stroke-width="0.4" fill="#000">Axial distance (m)</text>
<text transform="translate(461.36,249.3) scale(1.1601,1)" style="font-family:'Liberation Sans',sans-serif;" font-size="15.262" font-weight="bold" stroke="#000" stroke-width="0.4" fill="#000">Axial distance (m)</text>
<text transform="translate(11.45,213.93) rotate(-90) scale(1.1543,1)" style="font-family:'Liberation Sans',sans-serif;" font-size="15.395" font-weight="bold" stroke="#000" stroke-width="0.4" fill="#000">Centerline velocity (m/s)</text>
<text transform="translate(357.05,213.73) rotate(-90) scale(1.1393,1)" style="font-family:'Liberation Sans',sans-serif;" font-size="15.537" font-weight="bold" stroke="#000" stroke-width="0.4" fill="#000">Centerline velocity (m/s)</text>
<text transform="translate(118.39,273.39) scale(0.6990,1)" style="font-family:'Liberation Sans',sans-serif;" font-size="20.276" font-weight="bold" stroke="#000" stroke-width="0.4" fill="#000">(</text>
<text transform="translate(124.78,271.34) scale(0.8889,1)" style="font-family:'Liberation Sans',sans-serif;" font-size="16.245" font-weight="bold" stroke="#000" stroke-width="0.4" fill="#000">a</text>
<text transform="translate(134.58,273.39) scale(0.7864,1)" style="font-family:'Liberation Sans',sans-serif;" font-size="20.276" font-weight="bold" stroke="#000" stroke-width="0.4" fill="#000">)</text>
<text transform="translate(148.41,271.7) scale(1.2114,1)" style="font-family:'Liberation Serif',serif;" font-size="17.105" font-style="italic" fill="#000">Re</text>
<text transform="translate(170.92,273.77) scale(1.5137,1)" style="font-family:'Liberation Serif',serif;" font-size="13.269" font-style="italic" fill="#000">t</text>
<text transform="translate(178.22,273.9) scale(1.5636,1)" style="font-family:'Liberation Serif',serif;" font-size="11.962" font-style="italic" fill="#000">h</text>
<text transform="translate(193.75,274.23) scale(1.3670,1)" style="font-family:'Liberation Serif',serif;" font-size="20.720" stroke="#000" stroke-width="0.12" fill="#000">=</text>
<text transform="translate(214.71,270.98) scale(1.2037,1)" style="font-family:'Liberation Serif',serif;" font-size="15.975" stroke="#000" stroke-width="0.12" fill="#000">2000</text>
<text transform="translate(461.81,273.08) scale(0.7661,1)" style="font-family:'Liberation Sans',sans-serif;" font-size="20.813" font-weight="bold" stroke="#000" stroke-width="0.4" fill="#000">(</text>
<text transform="translate(469.04,271.34) scale(1.0460,1)" style="font-family:'Liberation Sans',sans-serif;" font-size="16.885" font-weight="bold" stroke="#000" stroke-width="0.4" fill="#000">b</text>
<text transform="translate(480.38,273.08) scale(0.7661,1)" style="font-family:'Liberation Sans',sans-serif;" font-size="20.813" font-weight="bold" stroke="#000" stroke-width="0.4" fill="#000">)</text>
<text transform="translate(494.82,271.7) scale(1.1552,1)" style="font-family:'Liberation Serif',serif;" font-size="18.938" font-style="italic" fill="#000">Re</text>
<text transform="translate(519.02,273.76) scale(1.4203,1)" style="font-family:'Liberation Serif',serif;" font-size="14.142" font-style="italic" fill="#000">t</text>
<text transform="translate(526.32,273.9) scale(1.4748,1)" style="font-family:'Liberation Serif',serif;" font-size="12.683" font-style="italic" fill="#000">h</text>
<text transform="translate(543.47,274.53) scale(1.2901,1)" style="font-family:'Liberation Serif',serif;" font-size="23.120" stroke="#000" stroke-width="0.12" fill="#000">=</text>
<text transform="translate(565.18,270.97) scale(1.1530,1)" style="font-family:'Liberation Serif',serif;" font-size="17.753" stroke="#000" stroke-width="0.12" fill="#000">3500</text>
</g>
</svg>
</body></html>
